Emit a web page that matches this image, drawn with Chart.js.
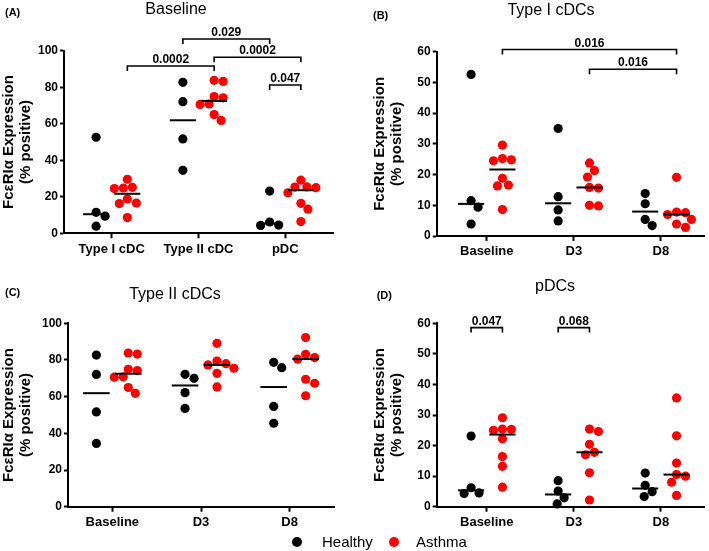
<!DOCTYPE html>
<html>
<head>
<meta charset="utf-8">
<script src="https://cdn.jsdelivr.net/npm/chart.js@4.4.1/dist/chart.umd.min.js"></script>
<style>
  body { margin: 0; background: #fff; width: 709px; height: 551px; position: relative; overflow: hidden;
         font-family: "Liberation Sans", Arial, sans-serif; }
  canvas { position: absolute; }
  #legend { position: absolute; top: 532px; left: 0; width: 709px; height: 20px; }
  .dot { position: absolute; width: 10px; height: 10px; border-radius: 50%; top: 5px; }
  .lab { position: absolute; font-size: 15px; line-height: 20px; top: 0; color: #000; }
</style>
</head>
<body>
<canvas id="panelA" width="354" height="270" style="left:0;top:0"></canvas>
<canvas id="panelB" width="355" height="270" style="left:354px;top:0"></canvas>
<canvas id="panelC" width="354" height="270" style="left:0;top:270px"></canvas>
<canvas id="panelD" width="355" height="270" style="left:354px;top:270px"></canvas>
<div id="legend">
  <span class="dot" style="left:292px;background:#000"></span><span class="lab" style="left:322px">Healthy</span>
  <span class="dot" style="left:389px;background:#ff0000"></span><span class="lab" style="left:416px">Asthma</span>
</div>
<script>
const timepoints = ["Baseline", "D3", "D8"];
const cellTypes = ["Type I cDC", "Type II cDC", "pDC"];
const ticks100 = [0, 20, 40, 60, 80, 100];
const ticks60 = [0, 10, 20, 30, 40, 50, 60];

// % positive, one list per timepoint: Baseline, D3, D8
const typeIHealthy = [[52.6, 11.5, 9.4, 3.9], [35.0, 12.8, 8.5, 4.9], [13.8, 10.5, 5.4, 3.4]];
const typeIAsthma = [[29.6, 25.2, 24.8, 24.5, 18.8, 16.6, 16.3, 8.6],
  [23.8, 21.3, 19.2, 15.8, 15.6, 10.0, 9.8], [19.1, 7.8, 7.6, 7.0, 5.4, 3.9, 2.8]];
const typeIIHealthy = [[82.7, 72.1, 51.7, 34.5], [72.2, 70.0, 62.2, 53.6], [78.7, 75.8, 54.7, 45.5]];
const typeIIAsthma = [[83.8, 83.2, 74.9, 74.2, 70.8, 70.6, 65.0, 61.8],
  [89.1, 79.4, 78.0, 77.3, 75.5, 72.7, 65.3], [92.2, 83.1, 81.3, 80.5, 69.5, 67.3, 60.5]];
const pdcHealthy = [[23.1, 6.2, 4.5, 4.3], [8.5, 5.1, 2.9, 0.9], [11.0, 7.0, 4.9, 3.3]];
const pdcAsthma = [[29.1, 25.4, 25.3, 25.0, 22.2, 16.4, 13.2, 6.4],
  [25.4, 24.6, 20.4, 17.8, 17.0, 11.1, 2.2], [35.6, 23.2, 14.3, 10.5, 10.0, 8.0, 3.7]];

// significance brackets: [category, group] with group 0 = healthy, 1 = asthma
const bracketsA = [
  { from: [0, 1], to: [1, 1], y: 91.6, p: "0.0002" },
  { from: [1, 0], to: [2, 0], y: 106.4, p: "0.029" },
  { from: [1, 1], to: [2, 1], y: 96.4, p: "0.0002" },
  { from: [2, 0], to: [2, 1], y: 81.2, p: "0.047" }
];
const bracketsB = [
  { from: [0, 1], to: [2, 1], y: 60.7, p: "0.016" },
  { from: [1, 1], to: [2, 1], y: 54.3, p: "0.016" }
];
const bracketsD = [
  { from: [0, 0], to: [0, 1], y: 58.6, p: "0.047" },
  { from: [1, 0], to: [1, 1], y: 58.6, p: "0.068" }
];

const FONT = '"Liberation Sans", Arial, sans-serif';
Chart.defaults.font.family = FONT;
Chart.defaults.color = "#000";

const OFF = 0.18;      // group offset from the category centre
const HALF_MED = 0.15; // half width of median bar

function median(arr) {
  const s = arr.slice().sort((a, b) => a - b);
  const m = Math.floor(s.length / 2);
  return s.length % 2 ? s[m] : (s[m - 1] + s[m]) / 2;
}

// simple beeswarm so overlapping dots spread sideways
function swarm(vals, cx, pxX, pxY) {
  const minDist = 9;
  const placed = [];
  const xs = [];
  const order = vals.map((v, i) => i).sort((a, b) => vals[b] - vals[a]);
  order.forEach(i => {
    const py = vals[i] * pxY;
    let off = 0;
    for (let k = 0; k < 80; k++) {
      const cand = (k % 2 ? 1 : -1) * Math.ceil(k / 2);
      if (placed.every(p => Math.hypot(p[0] - cand, p[1] - py) >= minDist)) { off = cand; break; }
    }
    placed.push([off, py]);
    xs[i] = cx + off / pxX;
  });
  return xs;
}

function makePanel(id, o) {
  const pxX = (o.area.right - o.area.left) / (o.xMax - o.xMin);
  const yMax = o.ticks[o.ticks.length - 1];
  const pxY = (o.area.bottom - o.area.top) / yMax;
  const groups = [o.healthy, o.asthma];
  const colors = ["#000000", "#ff0000"];
  const datasets = [];

  groups.forEach((grp, g) => {
    const pts = [];
    grp.forEach((vals, c) => {
      const cx = c + (g ? OFF : -OFF);
      const xs = swarm(vals, cx, pxX, pxY);
      vals.forEach((v, j) => pts.push({ x: xs[j], y: v }));
      datasets.push({
        type: "line", data: [{ x: cx - HALF_MED, y: median(vals) }, { x: cx + HALF_MED, y: median(vals) }],
        borderColor: "#000", borderWidth: 2, pointRadius: 0, order: 0, clip: false
      });
    });
    datasets.push({
      data: pts, backgroundColor: colors[g], borderWidth: 0, pointRadius: 4.6,
      order: 1, clip: false
    });
  });

  const textPlugin = {
    id: "panelText",
    afterDraw(chart) {
      const ctx = chart.ctx;
      const xs = chart.scales.x, ys = chart.scales.y;
      ctx.save();
      ctx.fillStyle = "#000";
      ctx.font = "16px " + FONT;
      ctx.textAlign = "center";
      ctx.textBaseline = "alphabetic";
      ctx.fillText(o.title, o.titleX, o.titleY);
      ctx.font = "bold 11px " + FONT;
      ctx.textAlign = "left";
      ctx.fillText(o.letter, o.letterX, o.letterY);
      // brackets
      ctx.strokeStyle = "#000";
      ctx.lineWidth = 1.6;
      ctx.font = "bold 12px " + FONT;
      ctx.textAlign = "center";
      (o.brackets || []).forEach(b => {
        const x1 = xs.getPixelForValue(b.from[0] + (b.from[1] ? OFF : -OFF));
        const x2 = xs.getPixelForValue(b.to[0] + (b.to[1] ? OFF : -OFF));
        const y = ys.getPixelForValue(b.y);
        ctx.beginPath();
        ctx.moveTo(x1, y + 5);
        ctx.lineTo(x1, y);
        ctx.lineTo(x2, y);
        ctx.lineTo(x2, y + 5);
        ctx.stroke();
        ctx.fillText(b.p, (x1 + x2) / 2, y - 3);
      });
      ctx.restore();
    }
  };

  new Chart(document.getElementById(id), {
    type: "scatter",
    data: { datasets: datasets },
    options: {
      responsive: false,
      animation: false,
      layout: { padding: { top: o.area.top, right: o.w - o.area.right, left: 0, bottom: 0 } },
      plugins: { legend: { display: false }, tooltip: { enabled: false } },
      scales: {
        x: {
          type: "linear", min: o.xMin, max: o.xMax,
          afterBuildTicks: s => { s.ticks = o.cats.map((c, i) => ({ value: i })); },
          afterFit: s => { s.height = o.h - o.area.bottom; },
          ticks: { callback: v => o.cats[v], font: { size: 13, weight: "bold" }, padding: 3, maxRotation: 0 },
          grid: { drawOnChartArea: false, drawTicks: true, tickLength: 5, tickWidth: 2, color: "#000" },
          border: { display: true, color: "#000", width: 2 }
        },
        y: {
          min: 0, max: yMax,
          afterBuildTicks: s => { s.ticks = o.ticks.map(v => ({ value: v })); },
          afterFit: s => { s.width = o.area.left; },
          ticks: { font: { size: 12, weight: "bold" }, padding: 2 },
          grid: { drawOnChartArea: false, drawTicks: true, tickLength: 4, tickWidth: 2, color: "#000" },
          border: { display: true, color: "#000", width: 2 },
          title: {
            display: true, text: ["Fc\u03b5RI\u03b1 Expression", "(% positive)"],
            font: { size: 15, weight: "bold", lineHeight: 1.13 }, padding: { top: o.yTitlePad, bottom: 0 }
          }
        }
      }
    },
    plugins: [textPlugin]
  });
}

makePanel("panelA", {
  cats: cellTypes, ticks: ticks100,
  healthy: [typeIHealthy[0], typeIIHealthy[0], pdcHealthy[0]],
  asthma: [typeIAsthma[0], typeIIAsthma[0], pdcAsthma[0]],
  xMin: -0.55, xMax: 2.55, w: 354, h: 270,
  area: { left: 64, top: 50.7, right: 333, bottom: 233.3 },
  title: "Baseline", titleX: 176, titleY: 14, letter: "(A)", letterX: 5, letterY: 16,
  brackets: bracketsA, yTitlePad: 0
});
makePanel("panelB", {
  cats: timepoints, ticks: ticks60, healthy: typeIHealthy, asthma: typeIAsthma,
  xMin: -0.575, xMax: 2.5, w: 355, h: 270,
  area: { left: 82.7, top: 51.7, right: 352, bottom: 236 },
  title: "Type I cDCs", titleX: 197, titleY: 15, letter: "(B)", letterX: 19, letterY: 19,
  brackets: bracketsB, yTitlePad: 17.5
});
makePanel("panelC", {
  cats: timepoints, ticks: ticks100, healthy: typeIIHealthy, asthma: typeIIAsthma,
  xMin: -0.5, xMax: 2.5, w: 354, h: 270,
  area: { left: 68, top: 53.3, right: 334, bottom: 236.7 },
  title: "Type II cDCs", titleX: 175, titleY: 28.5, letter: "(C)", letterX: 5, letterY: 26,
  brackets: [], yTitlePad: 0
});
makePanel("panelD", {
  cats: timepoints, ticks: ticks60, healthy: pdcHealthy, asthma: pdcAsthma,
  xMin: -0.575, xMax: 2.5, w: 355, h: 270,
  area: { left: 82.7, top: 53.3, right: 352, bottom: 236.7 },
  title: "pDCs", titleX: 201, titleY: 21, letter: "(D)", letterX: 22.7, letterY: 29,
  brackets: bracketsD, yTitlePad: 17.5
});
</script>
</body>
</html>
